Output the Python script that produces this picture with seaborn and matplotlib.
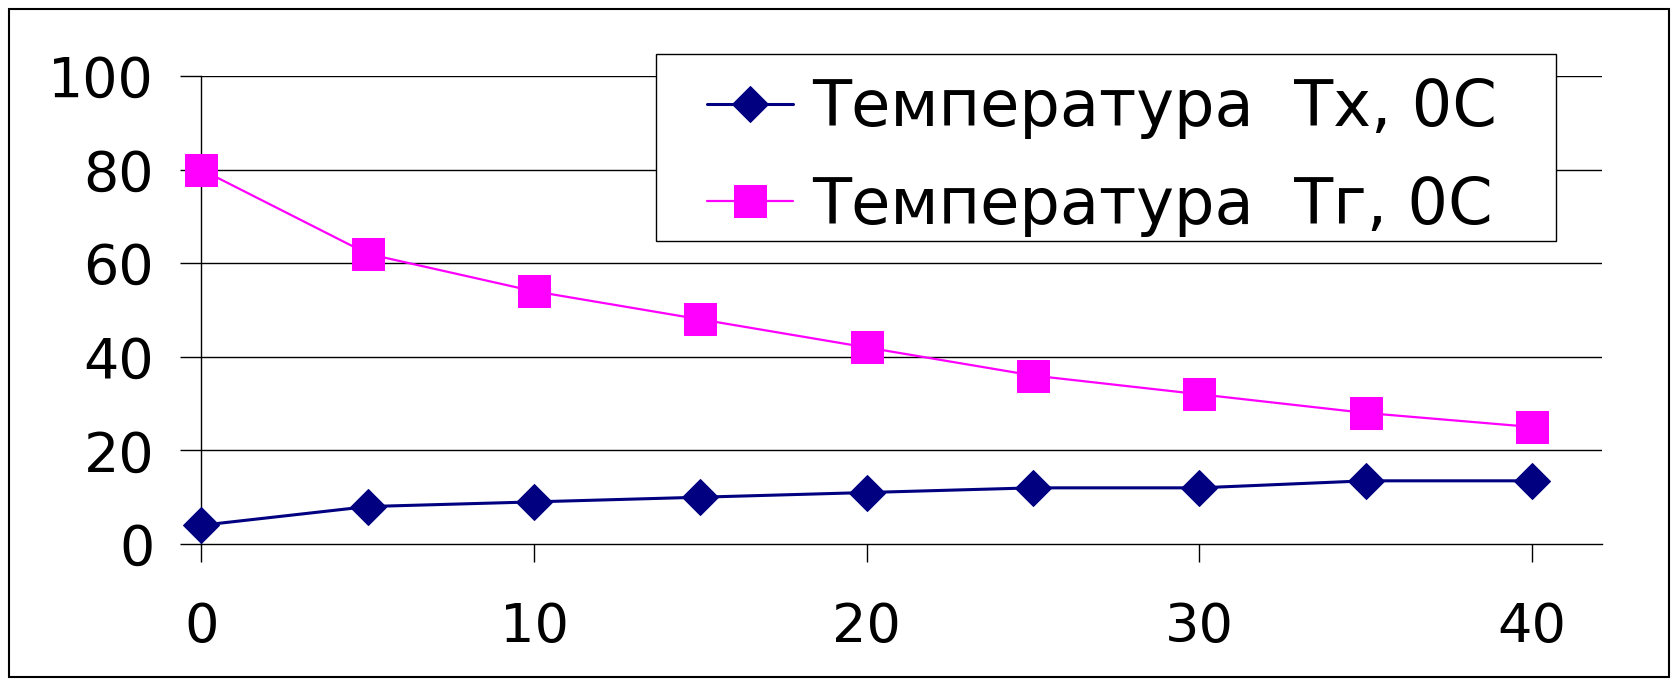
import matplotlib
matplotlib.use("Agg")
import matplotlib.pyplot as plt
import seaborn as sns
import pandas as pd
from matplotlib.patches import Rectangle

x_vals = [0, 5, 10, 15, 20, 25, 30, 35, 40]
tx_vals = [4, 8, 9, 10, 11, 12, 12, 13.5, 13.5]
tg_vals = [80, 62, 54, 48, 42, 36, 32, 28, 25]
label_tx = "Температура  Тх, 0С"
label_tg = "Температура  Тг, 0С"
x_ticks = [0, 10, 20, 30, 40]
y_ticks = [0, 20, 40, 60, 80, 100]

sns.set_style("white")
plt.rcParams['font.family'] = ['DejaVu Sans']
plt.rcParams['text.color'] = 'black'
plt.rcParams['xtick.color'] = 'black'
plt.rcParams['ytick.color'] = 'black'

W, H = 1678, 686
fig = plt.figure(figsize=(W / 100, H / 100), dpi=100)
ax = fig.add_axes([0.1200, 0.207, 0.9547 - 0.1200, (1 - 76 / H) - 0.207])

df = pd.DataFrame({"x": x_vals, "tx": tx_vals, "tg": tg_vals})

sns.lineplot(data=df, x="x", y="tx", ax=ax, color="#000080", marker="D",
             markersize=18, markeredgecolor="#000080", linewidth=2.2,
             label=label_tx, clip_on=False, zorder=5)
sns.lineplot(data=df, x="x", y="tg", ax=ax, color="#FF00FF", marker="s",
             markersize=23, markeredgecolor="#FF00FF", linewidth=1.6,
             label=label_tg, clip_on=False, zorder=4)

ax.set_xlim(0, 42.1)
ax.set_ylim(0, 100)
ax.set_xticks(x_ticks)
ax.set_yticks(y_ticks)
ax.set_xlabel("")
ax.set_ylabel("")

for y in y_ticks[1:]:
    ax.axhline(y, color="black", linewidth=1.0, zorder=1)

for s in ["top", "right"]:
    ax.spines[s].set_visible(False)
for s in ["left", "bottom"]:
    ax.spines[s].set_color("black")
    ax.spines[s].set_linewidth(1.0)

ax.tick_params(axis="y", direction="out", length=15, width=1.0, pad=19,
               labelsize=40, left=True, color="black", labelcolor="black")
ax.tick_params(axis="x", direction="out", length=13, width=1.0, pad=28,
               labelsize=39, bottom=True, color="black", labelcolor="black")

# legend frame box
ax.add_patch(Rectangle((656 / W, 1 - 241 / H), (1556 - 656) / W, (241 - 54) / H,
                       transform=fig.transFigure, clip_on=False, zorder=9,
                       facecolor="white", edgecolor="black", linewidth=1.0))

leg = ax.legend(loc="upper left", bbox_to_anchor=(707 / W, 1 - 77 / H),
                bbox_transform=fig.transFigure, borderaxespad=0, fontsize=46,
                frameon=False, handlelength=1.35, handletextpad=0.3,
                labelspacing=0.56, borderpad=0)
leg.set_zorder(10)
for t in leg.get_texts():
    t.set_color("black")

fig.patches.append(Rectangle((9 / W, 1 - 677 / H), (1669 - 9) / W,
                             (677 - 9) / H, transform=fig.transFigure,
                             fill=False, edgecolor="black", linewidth=1.5))

fig.savefig("out.png", dpi=100)
